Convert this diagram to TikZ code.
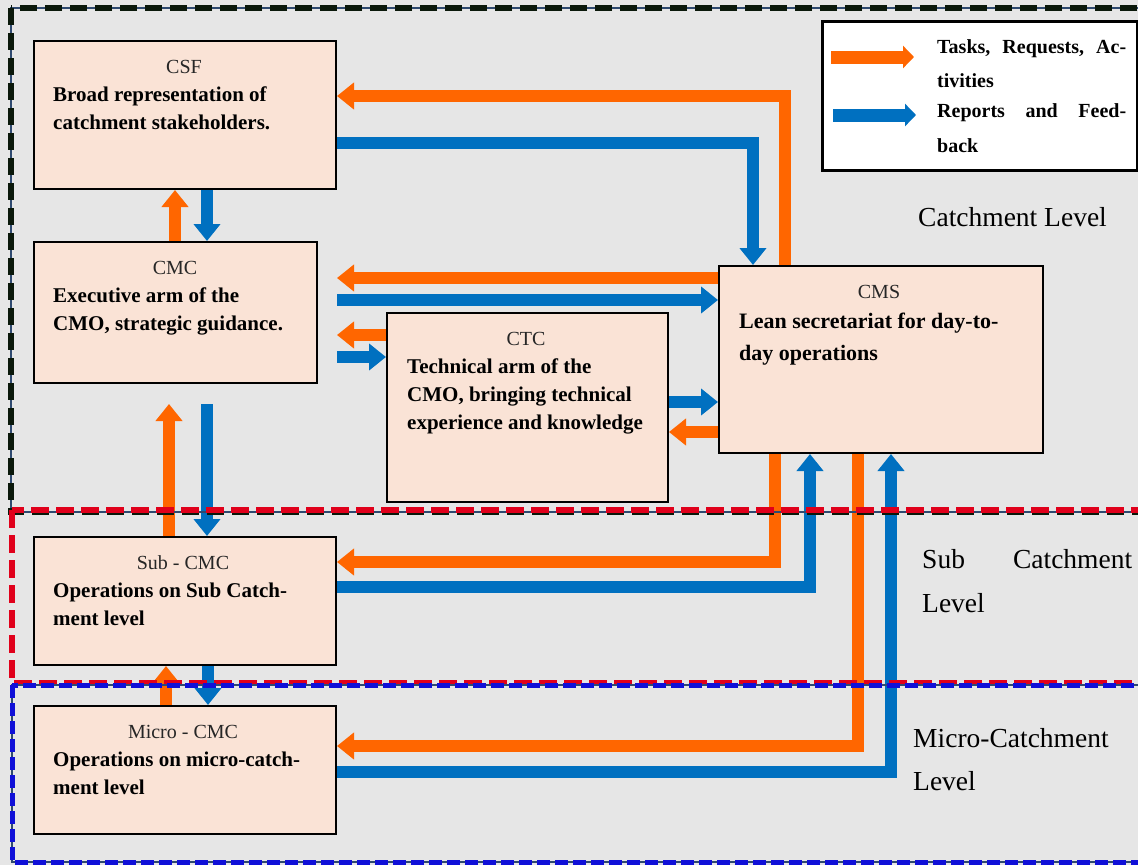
\documentclass[tikz,border=0pt]{standalone}
\usepackage{fontspec}
\setmainfont{Liberation Serif}
\usetikzlibrary{arrows.meta}
\definecolor{bg}{HTML}{E6E6E6}
\definecolor{boxfill}{HTML}{FAE3D6}
\definecolor{orng}{HTML}{FF6600}
\definecolor{blu}{HTML}{0070C0}
\definecolor{redd}{HTML}{E0001B}
\definecolor{bluu}{HTML}{1010D8}
\definecolor{blk}{HTML}{0A180A}
\definecolor{navy}{HTML}{2F4A70}
\begin{document}
\begin{tikzpicture}[x=1pt,y=-1pt,
  box/.style={draw=black, line width=2pt, fill=boxfill, rectangle, anchor=north west, inner sep=0pt},
  ttl/.style={anchor=base, inner sep=0pt, font=\fontsize{20}{24}\selectfont, text=black!85},
  desc/.style={anchor=base west, inner sep=0pt, font=\fontsize{21}{28}\selectfont\bfseries},
  cmsdesc/.style={anchor=base west, inner sep=0pt, font=\fontsize{22}{30}\selectfont\bfseries},
  lvl/.style={anchor=base west, inner sep=0pt, font=\fontsize{27.5}{32}\selectfont},
  leg/.style={anchor=base west, inner sep=0pt, font=\fontsize{20}{24}\selectfont\bfseries},
  oarr/.style={draw=orng, line width=12pt, line join=miter, -{Triangle[width=26pt,length=17pt]}},
  barr/.style={draw=blu, line width=12pt, line join=miter, -{Triangle[width=26pt,length=17pt]}},
  legarr/.style={line width=13pt, -{Triangle[width=22pt,length=11pt]}},
]
\useasboundingbox (0,0) rectangle (1138,865);
\fill[bg] (0,0) rectangle (1138,865);

% boxes
\node[box, minimum width=302pt, minimum height=148pt] (csf) at (33,40) {};
\node[box, minimum width=283pt, minimum height=141pt] (cmc) at (33,241) {};
\node[box, minimum width=281pt, minimum height=189pt] (ctc) at (386,312) {};
\node[box, minimum width=324pt, minimum height=187pt] (cms) at (718,265) {};
\node[box, minimum width=302pt, minimum height=128pt] (sub) at (33,536) {};
\node[box, minimum width=302pt, minimum height=128pt] (micro) at (33,705) {};

% box texts
\node[ttl] (csft) at (184,73) {CSF};
\node[desc] (csfd1) at (53,101) {Broad representation of};
\node[desc] (csfd2) at (53,129) {catchment stakeholders.};

\node[ttl] (cmct) at (175,274) {CMC};
\node[desc] (cmcd1) at (53,302) {Executive arm of the};
\node[desc] (cmcd2) at (53,330) {CMO, strategic guidance.};

\node[ttl] (ctct) at (526,345) {CTC};
\node[desc] (ctcd1) at (407,373) {Technical arm of the};
\node[desc] (ctcd2) at (407,401) {CMO, bringing technical};
\node[desc] (ctcd3) at (407,429) {experience and knowledge};

\node[ttl] (cmst) at (879,298) {CMS};
\node[cmsdesc] (cmsd1) at (739,328) {Lean secretariat for day-to-};
\node[cmsdesc] (cmsd2) at (739,360) {day operations};

\node[ttl] (subt) at (183,569) {Sub - CMC};
\node[desc] (subd1) at (53,597) {Operations on Sub Catch-};
\node[desc] (subd2) at (53,625) {ment level};

\node[ttl] (microt) at (183,738) {Micro - CMC};
\node[desc] (microd1) at (53,766) {Operations on micro-catch-};
\node[desc] (microd2) at (53,794) {ment level};

% helper coordinates
\coordinate (cmcR) at ([xshift=19pt]cmc.east);
\coordinate (cmcB) at ([yshift=-20pt]cmc.south);

% arrows
\draw[oarr] (cms.north -| 785,0) |- (csf.east |- 0,96);
\draw[barr] (csf.east |- 0,143) -| (cms.north -| 753,0);
\draw[oarr] (cmc.north -| 175,0) -- (csf.south -| 175,0);
\draw[barr] (csf.south -| 207,0) -- (cmc.north -| 207,0);
\draw[oarr] (cms.west |- 0,278) -- (cmcR |- 0,278);
\draw[barr] (cmcR |- 0,300) -- (cms.west |- 0,300);
\draw[oarr] (ctc.west |- 0,335) -- (cmcR |- 0,335);
\draw[barr] (cmcR |- 0,357) -- (ctc.west |- 0,357);
\draw[barr] (ctc.east |- 0,402) -- (cms.west |- 0,402);
\draw[oarr] (cms.west |- 0,432) -- (ctc.east |- 0,432);
\draw[oarr] (sub.north -| 169,0) -- (cmcB -| 169,0);
\draw[barr] (cmcB -| 207,0) -- (sub.north -| 207,0);
\draw[oarr] (cms.south -| 775,0) |- (sub.east |- 0,562);
\draw[barr] (sub.east |- 0,587) -| (cms.south -| 810,0);
\draw[oarr] (cms.south -| 858,0) |- (micro.east |- 0,746);
\draw[barr] (micro.east |- 0,772) -| (cms.south -| 891,0);
\draw[oarr] (micro.north -| 166,0) -- (sub.south -| 166,0);
\draw[barr] (sub.south -| 208,0) -- (micro.north -| 208,0);

% level labels
\node[lvl] (lvlc) at (918,226) {Catchment Level};
\node[lvl] (lvls1) at (922,568) {\makebox[210pt][s]{Sub Catchment}};
\node[lvl] (lvls2) at (922,612) {Level};
\node[lvl] (lvlm1) at (913,747) {Micro-Catchment};
\node[lvl] (lvlm2) at (913,790) {Level};

% level borders
\draw[navy, line width=1.5pt] (11,8) rectangle (1170,512);
\draw[blk, line width=6pt, dash pattern=on 17pt off 8pt] (11,8) rectangle (1170,512);
\draw[redd, line width=6pt, dash pattern=on 18pt off 7pt] (12,510) rectangle (1170,683);
\draw[navy, line width=1.5pt] (12,685) rectangle (1170,862);
\draw[bluu, line width=5pt, dash pattern=on 13pt off 5pt] (12,685) rectangle (1170,862);

% legend
\node[box, fill=white, line width=2.5pt, minimum width=315pt, minimum height=149pt] (legend) at (821,20) {};
\coordinate (lo1) at (831,57);
\coordinate (lo2) at (914,57);
\coordinate (lb1) at (833,115);
\coordinate (lb2) at (916,115);
\draw[legarr, orng] (lo1) -- (lo2);
\draw[legarr, blu] (lb1) -- (lb2);
\node[leg] (leg1) at (937,53) {\makebox[189pt][s]{Tasks, Requests, Ac-}};
\node[leg] (leg2) at (937,87) {tivities};
\node[leg] (leg3) at (937,117) {\makebox[189pt][s]{Reports and Feed-}};
\node[leg] (leg4) at (937,152) {back};
\end{tikzpicture}
\end{document}
